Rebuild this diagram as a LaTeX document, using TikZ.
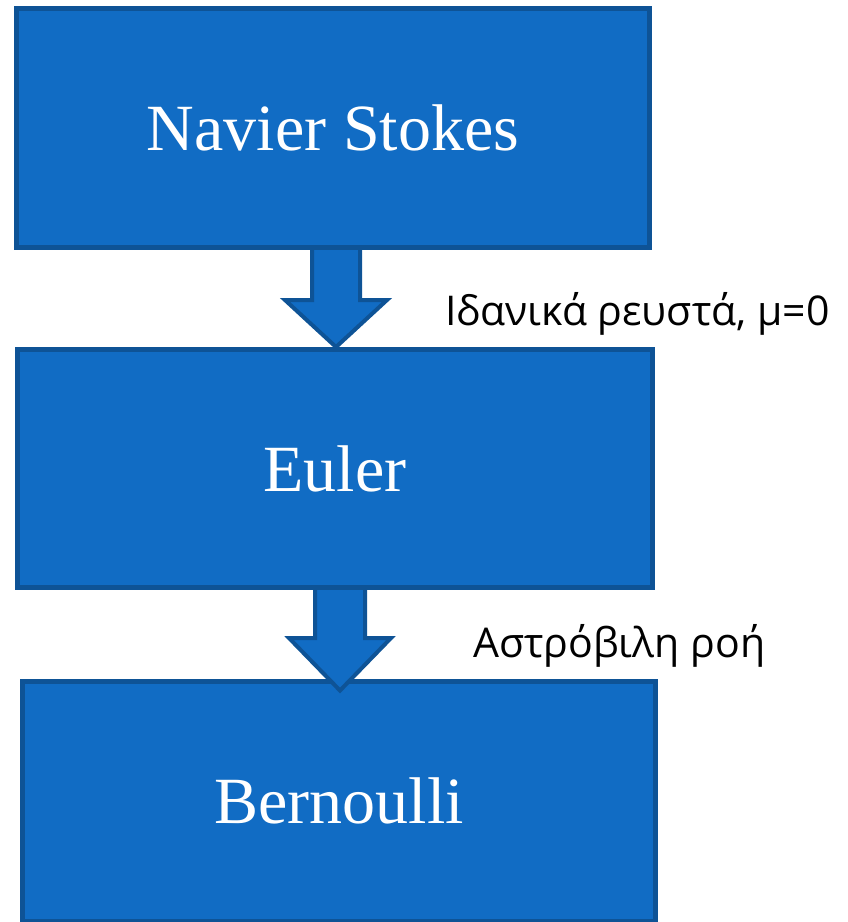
\documentclass[tikz,border=0pt]{standalone}
\usepackage{fontspec}
\setmainfont{Liberation Serif}
\newfontfamily\greekfont{Open Sans}
\usetikzlibrary{calc}

\definecolor{boxblue}{RGB}{17,108,196}
\definecolor{edgeblue}{RGB}{14,83,150}

\begin{document}
\begin{tikzpicture}[x=1pt,y=-1pt]
\tikzstyle{eqbox}=[rectangle, draw=edgeblue, fill=boxblue, line width=5pt, text=white, font=\fontsize{66}{70}\selectfont]
\tikzstyle{barrow}=[draw=edgeblue, fill=boxblue, line width=4pt, line join=miter]
\tikzstyle{cond}=[anchor=base west, inner sep=0pt, font=\greekfont\fontsize{41}{46}\selectfont]
\useasboundingbox (0,0) rectangle (847,922);

\node[eqbox, minimum width=633pt, minimum height=239pt] (ns) at (333,128) {Navier Stokes};
\node[eqbox, minimum width=635pt, minimum height=238pt] (eu) at (335,468.5) {Euler};
\node[eqbox, minimum width=633pt, minimum height=240pt] (br) at (339,801) {Bernoulli};

% Navier Stokes -> Euler
\coordinate (s1) at ($(ns.south)+(3,0)$);
\draw[barrow] ($(s1)+(-24,0)$) -- ($(s1)+(-24,50)$) -- ($(s1)+(-51,50)$) -- (s1 |- eu.north)
  -- ($(s1)+(51,50)$) -- ($(s1)+(24,50)$) -- ($(s1)+(24,0)$);
% Euler -> Bernoulli
\coordinate (s2) at ($(eu.south)+(5,0)$);
\draw[barrow] ($(s2)+(-25,0)$) -- ($(s2)+(-25,48)$) -- ($(s2)+(-51,48)$) -- ($(s2 |- br.north)+(0,12)$)
  -- ($(s2)+(51,48)$) -- ($(s2)+(25,48)$) -- ($(s2)+(25,0)$);

\node[cond] (c1) at (445,325) {Ιδανικά ρευστά, μ=0};
\node[cond] (c2) at (473,657) {Αστρόβιλη ροή};
\end{tikzpicture}
\end{document}
